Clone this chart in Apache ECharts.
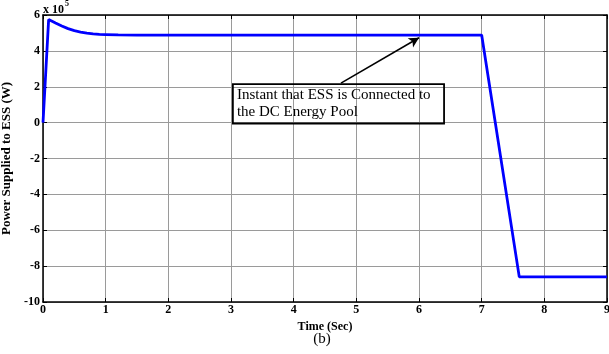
<!DOCTYPE html>
<html>
<head>
<meta charset="utf-8">
<script src="https://cdn.jsdelivr.net/npm/echarts@6/dist/echarts.min.js"></script>
<style>
  html, body { margin: 0; padding: 0; background: #fff; }
  #chart { width: 609px; height: 354px; }
</style>
</head>
<body>
<div id="chart"></div>
<script>
// Time axis (s) and power supplied to the ESS (in units of 1e5 W)
const timeSec = [0, 0.09, 0.2, 0.3, 0.4, 0.5, 0.6, 0.7, 0.8, 0.9, 1.0, 1.2, 1.5, 2, 3, 4, 5, 6, 7, 7.6, 8, 9];
const powerE5 = [0, 5.75, 5.56, 5.39, 5.24, 5.13, 5.05, 4.99, 4.95, 4.92, 4.91, 4.89, 4.88, 4.88, 4.88, 4.88, 4.88, 4.88, 4.88, -8.6, -8.6, -8.6];

const xTicks = [0, 1, 2, 3, 4, 5, 6, 7, 8, 9];
const yTicks = [-10, -8, -6, -4, -2, 0, 2, 4, 6];

// Annotation: box corners and arrow endpoints in data units
const noteText = ['Instant that ESS is Connected to', 'the DC Energy Pool'];
const noteBox = { t0: 3.03, v0: 2.15, t1: 6.4, v1: -0.05 };
const noteArrow = { from: [4.755, 2.2], to: [6.0, 4.73] };

const serif = '"Liberation Serif", "DejaVu Serif", serif';
const tickFont = { fontFamily: serif, fontWeight: 'bold', fontSize: 12, color: '#000' };

const chart = echarts.init(document.getElementById('chart'), null, { renderer: 'canvas' });

const baseX = {
  type: 'value', min: 0, max: 9, interval: 1,
  axisLine: { show: true, onZero: false, lineStyle: { color: '#000', width: 1.5 } },
  axisTick: { show: true, inside: true, length: 4, lineStyle: { color: '#000' } },
  splitLine: { show: false }
};
const baseY = {
  type: 'value', min: -10, max: 6, interval: 2,
  axisLine: { show: true, onZero: false, lineStyle: { color: '#000', width: 1.5 } },
  axisTick: { show: true, inside: true, length: 4, lineStyle: { color: '#000' } },
  splitLine: { show: false }
};

chart.setOption({
  animation: false,
  backgroundColor: '#fff',
  grid: { left: 43, right: 2, top: 15, bottom: 52, containLabel: false, outerBoundsMode: 'none' },
  xAxis: [
    Object.assign({}, baseX, {
      position: 'bottom',
      name: 'Time (Sec)', nameLocation: 'middle', nameGap: 14,
      nameTextStyle: { fontFamily: serif, fontWeight: 'bold', fontSize: 12, color: '#000' },
      axisLabel: Object.assign({ margin: 2, formatter: v => xTicks.includes(v) ? String(v) : '' }, tickFont),
      splitLine: { show: true, lineStyle: { color: '#9a9a9a', width: 1 } }
    }),
    Object.assign({}, baseX, { position: 'top', axisLabel: { show: false } })
  ],
  yAxis: [
    Object.assign({}, baseY, {
      position: 'left',
      name: 'Power Supplied to ESS (W)', nameLocation: 'middle', nameGap: 21,
      nameTextStyle: { fontFamily: serif, fontWeight: 'bold', fontSize: 13, color: '#000' },
      axisLabel: Object.assign({ margin: 3, formatter: v => yTicks.includes(v) ? String(v) : '' }, tickFont),
      splitLine: { show: true, lineStyle: { color: '#9a9a9a', width: 1 } }
    }),
    Object.assign({}, baseY, { position: 'right', axisLabel: { show: false } })
  ],
  series: [{
    type: 'line',
    data: timeSec.map((t, i) => [t, powerE5[i]]),
    showSymbol: false,
    lineStyle: { color: '#0000ff', width: 2.8 },
    z: 3,
    markLine: {
      silent: true,
      symbol: ['none', 'arrow'],
      symbolSize: [8, 10],
      label: { show: false },
      lineStyle: { color: '#000', width: 1.6, type: 'solid' },
      data: [[{ coord: noteArrow.from }, { coord: noteArrow.to }]]
    }
  }]
});

// Text box and scale factor placed from data coordinates
const p0 = chart.convertToPixel({ xAxisIndex: 0, yAxisIndex: 0 }, [noteBox.t0, noteBox.v0]);
const p1 = chart.convertToPixel({ xAxisIndex: 0, yAxisIndex: 0 }, [noteBox.t1, noteBox.v1]);
const origin = chart.convertToPixel({ xAxisIndex: 0, yAxisIndex: 0 }, [0, 6]);
const plotW = chart.convertToPixel({ xAxisIndex: 0 }, 9) - chart.convertToPixel({ xAxisIndex: 0 }, 0);
const plotBottom = chart.convertToPixel({ yAxisIndex: 0 }, -10);

chart.setOption({
  graphic: [
    {
      type: 'rect', z: 10,
      shape: { x: p0[0], y: p0[1], width: p1[0] - p0[0], height: p1[1] - p0[1] },
      style: { fill: 'rgba(255,255,255,0)', stroke: '#000', lineWidth: 1.8 }
    },
    {
      type: 'text', z: 11, x: p0[0] + 4, y: p0[1] + 3,
      style: { text: noteText.join('\n'), font: '15px ' + serif, fill: '#000', lineHeight: 17 }
    },
    {
      type: 'text', z: 11, x: origin[0], y: origin[1] - 15,
      style: {
        text: '{b|x 10}{s|5}',
        rich: {
          b: { font: 'bold 12px ' + serif, fill: '#000', verticalAlign: 'bottom' },
          s: { font: 'bold 8px ' + serif, fill: '#000', verticalAlign: 'top', padding: [0, 0, 8, 1] }
        }
      }
    },
    {
      type: 'text', z: 11, x: origin[0] + plotW / 2 - 3, y: plotBottom + 30,
      style: { text: '(b)', font: '15px ' + serif, fill: '#000', textAlign: 'center' }
    }
  ]
});
</script>
</body>
</html>
